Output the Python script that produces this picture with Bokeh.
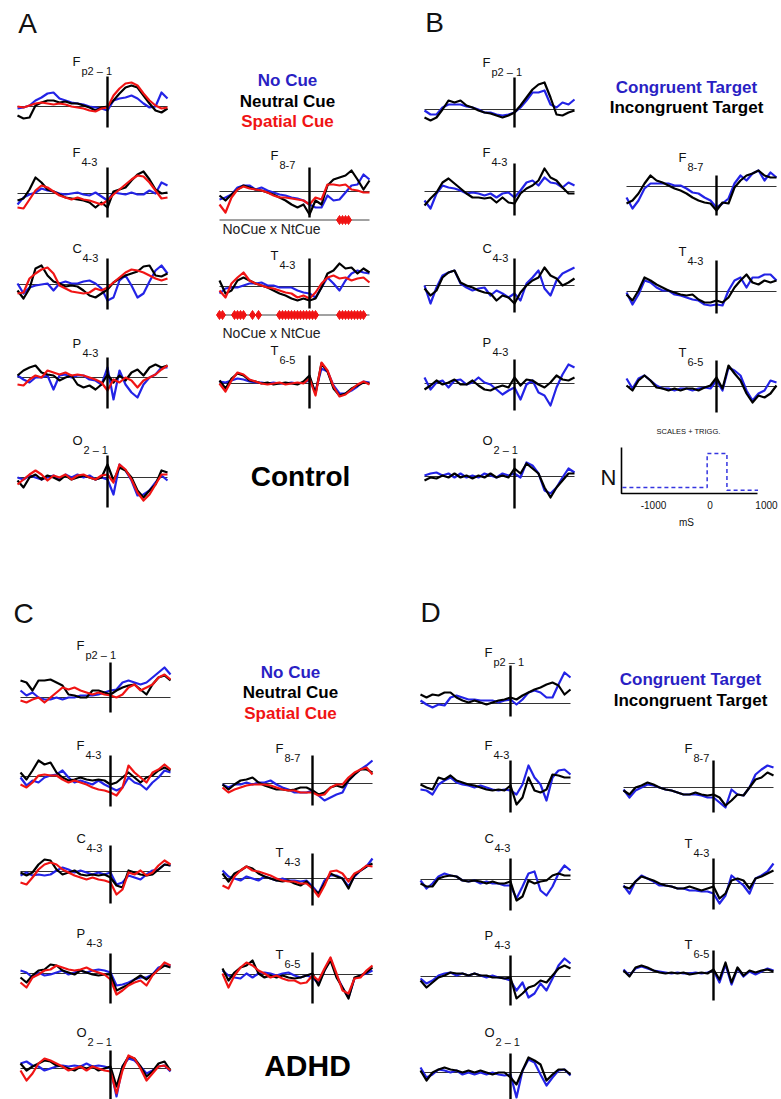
from bokeh.plotting import figure
from bokeh.models import Range1d
from bokeh.embed import file_html
from bokeh.resources import INLINE
from bokeh.core.properties import value

W, H = 781, 1099
FONT = "Liberation Sans"
BLUE = "#2323e6"
RED = "#f01414"
BLACK = "#000000"
LEG_BLUE = "#2a1fc4"

# time axis of every trace (ms relative to target onset)
TIMES = list(range(-1500, 1001, 100))
T_START, T_END = -1500, 1000

# ---------------- Panel A (Control, cue types) ----------------
a_fp21_no = [-0.2,-0.1,0.1,0.6,0.9,1.3,1.4,0.8,0.6,0.4,0.3,0.2,0,-0.1,-0.2,-0.4,0.6,0.8,0.9,1.1,0.8,0.3,-0.1,0,1.4,0.8]
a_fp21_nt = [-0.9,-1.2,-1.1,0.1,0.4,0.6,0.6,0.4,0.5,0.3,0.3,0.1,-0.1,-0.4,-0.1,0,0.6,1.3,1.9,2.1,1.9,1.1,0.3,-0.4,-0.6,-0.2]
a_fp21_sp = [0,-0.1,0.1,0.3,0.4,0.3,0.2,0.3,0.2,0,-0.1,-0.2,-0.4,-0.5,-0.2,-0.1,1.1,1.8,2.3,2.4,2.1,1.3,0.6,0.1,-0.2,-0.1]

a_f43_no = [-1.1,-0.4,-0.1,0.1,0.5,0.3,0.2,0,-0.1,0,0.1,-0.1,-0.2,0.1,-0.3,-0.7,0.1,0,-0.1,0.1,-0.1,-0.1,0.3,0,1.1,0.8]
a_f43_nt = [-0.7,-0.5,0.4,1.6,1.1,0.4,0.2,-0.1,-0.4,-0.5,-0.6,-0.7,-0.9,-1.4,-0.9,-1.4,0.2,0.4,0.6,1.3,1.9,2.2,1.4,0.4,0,0.1]
a_f43_sp = [-1.4,-1.5,-0.6,0.3,0.8,0.6,0.2,-0.2,-0.4,-0.6,-0.4,-0.6,-0.7,-0.9,-1.1,-0.7,-0.1,0.4,0.9,1.4,1.8,1.7,1.1,0.3,-0.5,-0.4]

a_c43_no = [0.1,-0.9,-0.3,-0.1,0,0.1,-0.6,0.1,0.3,0.1,0.1,0.3,0.4,0.1,-0.4,-1.6,-1.3,0.4,0.9,-0.1,-1.3,-0.9,0.3,1.4,1.9,1.1]
a_c43_nt = [-0.6,-1.4,-0.4,1.6,1.9,0.9,0.3,0.1,-0.2,-0.1,-0.2,-0.6,-1.1,-1.3,-0.9,-0.5,0.2,0.6,0.9,1.1,1.3,1.8,1.9,0.9,0.8,1.1]
a_c43_sp = [-0.9,-0.8,0.6,1.1,1.5,1.7,1.1,-0.1,-0.4,-0.7,-0.8,-0.9,-0.8,-0.4,-0.6,-0.3,0.2,0.7,1.2,1.5,1.4,1.2,0.9,0.6,0.4,0.6]

a_p43_no = [0.2,-0.2,-0.5,0,0,0.2,-1.2,0.2,0.3,0,0.2,0.2,-0.2,-0.3,-0.7,1.0,-2.2,0.7,-0.7,-1.5,-2.0,-0.7,0,0.3,1.0,1.0]
a_p43_nt = [0.2,0.7,1.0,1.2,0.5,0.3,0.2,-0.3,0,0.2,-0.7,-1.0,-0.8,-1.2,-0.7,0.3,-0.5,0.2,-0.3,0.5,0.8,0.2,1.0,1.3,1.0,1.2]
a_p43_sp = [-0.7,-0.8,-0.2,0.2,0,0.7,0.5,0.3,0.5,0.2,0.3,0.2,0,-0.2,-0.5,-1.3,-0.2,-0.5,0,-0.3,-1.0,-0.3,0,0.3,0.8,1.2]

a_o21_no = [0,-0.2,0.2,0,-0.2,0,0.2,-0.2,0.3,0,0.3,0,0.2,-0.2,0,-0.2,-1.7,1.3,0.7,-0.3,-1.8,-1.7,-1.3,-0.5,0.2,-0.3]
a_o21_nt = [-0.3,-1.0,0,0.3,-0.2,0.2,0,-0.3,0.2,-0.2,0,0.2,0,-0.2,0,1.3,-0.3,1.0,0.7,0,-1.3,-2.0,-1.3,-0.7,0.7,0.5]
a_o21_sp = [-0.7,-0.2,0.3,0.7,0.3,-0.3,0.2,0,0.3,-0.2,0.2,0.3,0,-0.2,0.2,0.3,-0.5,1.3,0.8,-0.2,-1.5,-2.3,-1.7,-0.7,0.3,0.3]

a_f87_no = [-0.8,-0.6,-0.3,0.4,0.6,0.6,0.2,0.4,0.1,-0.1,-0.3,-0.4,-0.6,-0.7,-0.9,-1.3,-1.6,-1.6,-0.4,-0.9,-0.8,-0.1,0.6,0.7,1.7,1.2]
a_f87_nt = [-0.4,-0.9,-0.3,0.2,0.6,0.4,0.2,0.1,-0.1,-0.3,-0.6,-0.9,-1.3,-1.6,-1.3,-2.3,-0.9,-1.3,0.6,1.2,1.4,1.6,2.1,1.2,0.2,1.1]
a_f87_sp = [-1.3,-2.1,-0.6,0.2,0.5,0.3,0.2,0.1,-0.1,-0.4,-0.6,-0.6,-0.7,-0.8,-0.9,-1.3,-0.6,-0.8,0.7,0.7,0.6,0.7,0.2,0.1,-0.1,-0.1]

a_t43_no = [-0.7,-0.2,-0.1,-0.1,0.1,0.3,0.3,0.4,0.1,0.1,-0.1,-0.1,-0.1,-0.4,-0.6,-0.7,-1.1,-0.1,0.9,0.3,-0.4,0.6,1.3,1.6,1.4,1.3]
a_t43_nt = [0.6,-0.7,-0.4,0.6,0.9,0.6,0.3,0.1,-0.1,-0.4,-0.7,-0.9,-1.2,-1.4,-1.2,-1.4,-1.2,-0.1,1.3,1.6,2.3,1.8,1.9,1.3,1.8,1.4]
a_t43_sp = [-0.4,-1.1,0.3,0.9,1.4,0.6,0.3,0.1,-0.1,-0.2,-0.4,-0.6,-0.7,-1.1,-0.9,-1.2,-0.6,0.3,0.9,1.1,0.8,0.9,0.6,0.8,0.9,0.4]

a_t65_no = [0.2,0.1,0.3,0.5,0.4,0.2,0.1,0.1,0,0.1,0,0,0.1,0,0.1,0.3,-0.8,1.5,1.2,-0.2,-1.0,-1.0,-0.7,-0.3,0.2,0.1]
a_t65_nt = [0.3,-0.5,0.5,1.0,0.8,0.3,0.2,0,0.1,-0.1,0,0.1,0,-0.1,0.2,0.8,-1.0,2.0,1.2,-0.5,-1.2,-1.0,-0.5,-0.2,0.1,0]
a_t65_sp = [0,-0.8,0.3,1.1,0.9,0.4,0.2,0,-0.1,0,0.1,-0.1,0,0.1,0,0.5,-1.2,2.1,1.3,-0.3,-1.3,-1.1,-0.6,-0.1,0.2,-0.1]

# significant NoCue x NtCue time points (ms)
sig_a_f87 = [500, 550, 600, 650]
sig_a_t43 = [-1500, -1450, -1250, -1200, -1150, -1100, -950, -850,
             -500, -450, -400, -350, -300, -250, -200, -150, -100, -50, 0, 50, 100,
             500, 550, 600, 650, 700, 750, 800, 850, 900]

# ---------------- Panel B (Control, target types) ----------------
b_fp21_co = [-0.1,-0.5,-0.5,0.2,0.5,0.5,0.5,0.3,0.2,0,-0.3,-0.3,-0.5,-0.6,-0.5,-0.3,0.2,0.9,1.7,1.7,1.9,0.5,0.2,0.7,0.5,1.0]
b_fp21_in = [-0.8,-1.1,-0.8,0,0.9,0.7,0.9,0.4,0.2,-0.1,-0.3,-0.4,-0.6,-0.8,-0.6,-0.3,0.4,1.2,2.0,2.5,2.7,1.2,-0.5,-0.6,-0.3,-0.1]
b_f43_co = [-0.9,-1.7,-0.2,0.6,0.4,0.3,0.1,-0.2,-0.1,-0.2,-0.4,-0.2,-0.6,-0.2,-0.1,-0.6,0.1,0.9,1.1,0.6,1.4,0.9,0.8,0.4,0.9,0.6]
b_f43_in = [-1.4,-0.7,-0.1,0.9,1.3,0.8,0.3,-0.2,-0.6,-0.6,-0.7,-0.6,-1.1,-0.6,-1.1,-1.2,-0.2,0.3,0.6,1.1,2.3,1.4,1.1,0.4,-0.2,-0.2]
b_c43_co = [0,-1.8,-0.2,1.0,1.3,1.5,0.2,-0.2,-0.5,-0.3,-0.2,-1.0,-0.5,-0.8,-1.2,-0.8,-1.5,0.2,0.8,1.5,-0.3,-1.0,0.5,1.2,1.5,1.8]
b_c43_in = [-0.3,-1.0,-0.5,0.8,1.3,1.5,0.3,0,-0.2,-0.5,-0.7,-0.8,-1.5,-1.0,-1.2,-1.8,-0.7,0,0.5,0.8,1.8,1.0,0.7,0,0.3,0.7]
b_p43_co = [0.6,-0.6,0.1,0.3,-0.4,0.3,0.4,-0.1,0.1,0.6,0.1,-0.1,-0.6,-1.1,-0.7,-0.4,-1.6,-0.1,0.3,-0.9,-1.2,-2.2,-0.4,0.9,1.9,1.6]
b_p43_in = [-0.6,-0.2,0.3,-0.1,0.1,0.4,-0.1,-0.1,0.3,-0.2,-0.6,-0.7,-0.4,-0.2,-0.4,0.6,-0.2,0.4,0.3,-0.1,-0.4,0.1,0.8,0.4,0.3,0.6]
b_o21_co = [0.1,0.3,0.4,0.1,0.3,-0.1,0.3,-0.1,0.1,-0.1,0.3,0.1,-0.1,0.3,0.1,0.3,-0.1,1.4,1.1,0.3,-1.4,-1.7,-1.1,-0.1,0.8,0.4]
b_o21_in = [-0.4,-0.1,-0.2,0.1,-0.1,0.3,-0.1,0.1,-0.2,0.1,-0.1,0.3,-0.1,0.1,-0.1,0.8,0.3,1.3,0.8,0.3,-1.1,-2.1,-1.1,-0.4,0.3,0.3]
b_f87_co = [-1.1,-2.2,-1.4,-0.2,0.3,0.3,0.3,0.3,0.1,0.1,-0.2,-0.6,-0.7,-1.1,-1.4,-2.1,-1.7,-1.2,0.3,1.1,0.6,1.3,1.6,0.6,1.4,0.9]
b_f87_in = [-1.7,-1.4,-0.7,0.3,1.1,0.6,0.4,0.1,-0.2,-0.4,-0.7,-1.1,-1.4,-1.6,-1.7,-2.4,-1.6,-1.7,-0.1,0.6,1.1,1.3,1.6,1.1,0.9,0.9]
b_t43_co = [-0.1,-1.3,-0.3,1.1,0.9,0.4,0.1,0.1,-0.3,-0.4,-0.6,-0.8,-0.9,-1.3,-1.4,-1.3,-1.4,0.1,1.1,1.4,0.4,1.4,1.4,1.7,1.7,1.1]
b_t43_in = [-0.3,-0.9,0.1,1.4,1.1,0.7,0.4,0.1,-0.1,-0.3,-0.4,-0.3,-0.8,-1.1,-1.1,-0.9,-1.1,-0.6,0.4,1.1,1.7,0.9,0.7,1.1,0.9,1.1]
b_t65_co = [0.8,-0.2,0.8,1.1,0.6,0.1,-0.2,-0.2,-0.4,-0.2,-0.2,-0.4,-0.2,-0.1,-0.2,0.6,-0.4,1.9,1.6,1.1,-0.4,-1.4,-0.7,-0.4,0.6,0.4]
b_t65_in = [0.1,-0.4,0.6,1.1,0.6,-0.1,-0.2,-0.4,-0.2,-0.4,-0.2,-0.2,-0.4,-0.1,0.1,0.9,-0.2,2.1,1.3,0.6,-0.7,-1.6,-0.9,-1.1,-0.7,0.1]

# inset: scales + trigger histogram
hist_edges = [-1550, -50, 300, 850]
hist_counts = [1.5, 10.0, 0.8]
hist_ticks = [-1000, 0, 1000]
hist_tick_labels = ["-1000", "0", "1000"]

# ---------------- Panel C (ADHD, cue types) ----------------
c_fp21_no = [0.7,0.2,0.5,0,-0.2,-0.2,0,-0.2,0,0,0.2,0.2,0.2,0.3,0.5,0.7,0.8,1.5,1.7,1.5,1.3,1.5,2.0,2.5,3.0,2.3]
c_fp21_nt = [1.7,1.5,0.7,1.7,1.7,1.8,1.5,1.2,0.3,0.2,0,0,0.7,0.7,0.5,0.3,0.7,1.0,1.2,1.3,0.8,0.3,1.3,2.0,2.2,1.7]
c_fp21_sp = [-0.3,-0.5,-0.2,0,-0.5,0,0.5,1.0,0.8,1.0,0.7,0.5,0.3,0.5,0.3,0.2,0,0.3,1.0,1.3,0.7,1.0,1.3,2.0,2.3,1.8]
c_f43_no = [-0.1,-0.9,-0.4,-0.6,-0.1,0.1,0.2,0.6,-0.1,-0.6,-0.4,-0.6,-0.8,-0.4,-0.8,-1.1,-1.4,-1.1,-0.1,-0.6,-0.8,-1.3,-0.6,-0.1,0.6,0.4]
c_f43_nt = [0.4,-0.3,0.6,1.6,1.2,1.4,0.4,-0.1,-0.4,-0.3,-0.1,-0.3,-0.4,-0.3,-0.4,-0.8,-0.6,-0.1,0.4,-0.1,-0.6,-0.1,0.1,0.6,0.9,0.6]
c_f43_sp = [-0.8,-1.1,-0.6,0.1,0.2,0.1,0.1,-0.3,-0.6,-0.4,-0.6,-0.8,-1.1,-1.3,-1.4,-1.6,-1.9,-1.1,1.1,0.4,-0.1,-0.6,0.4,0.7,1.2,0.7]
c_c43_no = [-0.4,-0.1,-0.4,-0.3,-0.4,-0.3,0.1,0.4,0.2,-0.1,0.1,-0.1,-0.3,-0.1,-0.3,-0.1,-1.3,-1.1,-0.4,-0.6,-0.8,-0.3,0.1,0.2,0.7,0.6]
c_c43_nt = [-0.1,-0.4,-0.1,0.7,1.2,1.1,0.2,-0.3,-0.1,0.1,-0.3,-0.4,-0.3,-0.4,-0.3,-0.6,-1.4,-1.6,0.1,-0.1,-0.3,-0.4,-0.3,0.2,0.7,0.6]
c_c43_sp = [-1.1,-1.3,-0.6,0.2,0.7,0.9,0.7,0.2,-0.1,-0.4,-0.6,-0.8,-0.6,-0.8,-0.9,-1.1,-2.3,-1.8,-0.1,-0.3,0.1,-0.4,-0.1,0.6,1.1,0.7]
c_p43_no = [0.3,0.1,-0.4,0.1,-0.2,-0.1,0.1,0.3,-0.1,0.1,0.3,0.1,0.3,0.4,0.3,0.1,-1.2,-1.1,-0.9,-0.6,-0.4,-0.4,-0.1,0.6,0.8,0.8]
c_p43_nt = [-0.4,-0.9,-0.2,0.3,0.4,0.9,0.8,0.3,0.1,-0.1,0.3,0.1,-0.1,-0.2,-0.1,-0.1,-1.7,-1.4,-1.1,-0.6,-0.2,-0.6,-0.1,0.4,0.8,0.6]
c_p43_sp = [-0.9,-1.4,-0.4,-0.1,0.3,0.4,0.8,0.6,0.4,0.3,0.4,0.6,0.3,0.1,-0.1,-0.6,-2.1,-1.7,-1.2,-0.9,-0.7,-1.2,-0.2,0.4,1.1,0.8]
c_o21_no = [0.5,0.7,0.3,0.2,-0.2,0,0.2,0.3,0.2,0.3,0.2,0.5,0.2,0.3,0.2,0,-2.8,0.2,1.0,0.8,0.2,-0.5,-0.2,0.2,0.3,-0.3]
c_o21_nt = [0.5,-0.2,0.2,0.5,0.8,0.7,0.3,0.2,0,-0.2,0.2,0,0.2,-0.2,0,0.2,-1.8,0.2,1.2,1.0,0.2,-0.8,-0.3,0.5,0.7,-0.2]
c_o21_sp = [-0.2,-1.2,-0.5,0.5,1.0,0.8,0.5,0.2,-0.2,0,0.2,-0.2,0.2,0,-0.2,-0.3,-2.5,-0.2,1.3,1.0,0,-1.2,-0.5,0.2,0.3,-0.2]
c_f87_no = [-0.1,-0.4,-0.1,-0.1,0.1,-0.1,0.1,0.1,0.3,-0.1,-0.4,-0.6,-0.9,-0.9,-0.9,-0.7,-1.2,-1.7,-1.4,-1.1,-0.9,0.3,0.9,1.4,1.8,2.3]
c_f87_nt = [-0.1,-0.6,-0.1,0.3,0.4,0.6,0.1,-0.2,-0.4,-0.6,-0.6,-0.7,-0.6,-0.4,-0.4,-0.7,-1.1,-0.9,-0.4,-0.2,-0.4,0.3,0.9,1.4,1.4,1.1]
c_f87_sp = [-0.4,-0.9,-0.6,-0.4,-0.2,-0.1,-0.1,-0.1,-0.2,-0.4,-0.6,-0.7,-0.7,-0.9,-0.9,-0.9,-1.2,-1.1,-0.4,-0.1,-0.1,0.6,1.1,1.4,1.6,0.9]
c_t43_no = [0.8,0.2,0,-0.2,0.2,0,-0.2,0.2,0,-0.2,0,-0.2,-0.2,-0.3,-0.2,-0.8,-1.5,-0.2,0.3,0.3,0,-0.8,0.2,0.8,1.2,2.0]
c_t43_nt = [0.5,-0.3,0.5,0.8,1.2,1.0,0.5,0.2,0,-0.2,-0.3,-0.2,-0.5,-0.7,-0.3,-1.0,-1.5,-0.5,0.5,0.2,0,-1.0,0.3,0.8,1.2,1.5]
c_t43_sp = [-0.7,-1.0,0.2,0.8,1.2,0.8,0.7,0.5,0.3,0,-0.2,-0.3,-0.3,-0.5,-0.5,-1.0,-1.8,-0.7,0.7,0.8,0.5,-0.3,0.5,0.8,1.3,1.2]
c_t65_no = [0.4,-0.1,-0.3,-0.4,0.1,-0.3,0.1,0.2,0.1,-0.1,0.1,0.2,-0.1,-0.3,-0.1,-0.3,-0.9,0.4,1.6,-0.1,-1.3,-2.3,-0.4,-0.1,0.1,0.4]
c_t65_nt = [0.6,-0.6,0.2,0.7,0.9,1.4,0.1,-0.3,-0.1,-0.3,-0.1,-0.3,-0.4,-0.3,-0.1,0.1,-1.1,0.4,1.4,-0.3,-1.3,-2.4,-0.3,-0.1,0.2,0.7]
c_t65_sp = [0.1,-1.3,-0.1,0.7,1.2,0.9,0.4,0.1,-0.3,-0.1,-0.4,-0.6,-0.6,-0.9,-0.8,-0.1,-0.6,0.6,1.7,0.1,-1.6,-1.9,-0.4,-0.3,0.4,0.9]

# ---------------- Panel D (ADHD, target types) ----------------
d_fp21_co = [0.3,-0.1,-0.4,-0.1,-0.2,0.6,0.8,0.6,0.4,0.4,0.3,0.3,0.3,0.1,0.3,0.4,-0.1,0.4,1.1,1.3,1.1,0.6,0.6,1.9,3.1,2.6]
d_fp21_in = [0.9,0.6,0.9,0.8,1.1,1.1,0.6,0.3,0.1,0.3,0.1,-0.1,0.1,0.3,0.4,0.6,0.4,0.8,1.1,1.4,1.6,1.9,2.1,1.8,0.9,1.4]
d_f43_co = [-0.6,-0.7,-1.1,-0.1,0.3,0.6,0.1,-0.1,-0.2,-0.4,-0.2,-0.4,-0.6,-0.7,-0.6,-0.7,-1.1,-0.1,1.8,0.6,-0.1,-1.7,0.6,1.3,1.4,0.9]
d_f43_in = [-0.1,-0.4,-0.6,0.6,0.4,0.8,0.3,0.1,-0.1,-0.2,-0.4,-0.6,-0.7,-0.6,-0.7,-0.2,-2.1,-1.4,0.6,-0.7,-0.9,-0.6,0.9,0.8,0.6,0.6]
d_c43_co = [-0.1,-0.9,-0.4,0.3,0.6,0.4,0.3,-0.1,-0.2,-0.1,-0.4,-0.2,-0.4,-0.4,-0.6,-0.6,-1.9,-0.7,0.6,0.8,-1.1,-1.6,-0.7,0.6,1.4,0.9]
d_c43_in = [-0.4,-0.7,-0.7,0.1,0.3,0.4,0.3,-0.1,-0.2,-0.1,-0.2,-0.4,-0.2,-0.4,-0.4,-0.2,-2.1,-1.7,-0.1,-0.4,-0.2,-0.1,0.4,0.6,0.4,0.4]
d_p43_co = [-0.2,-0.7,-0.4,0.1,0.3,0.4,0.1,0.3,0.1,0.3,0.1,-0.1,0.1,-0.1,-0.2,-0.4,-1.4,-0.6,-2.1,-1.7,-0.7,-1.4,-0.2,1.1,1.8,1.3]
d_p43_in = [-0.4,-1.1,-0.6,-0.1,0.1,0.4,0.3,0.3,0.1,0.3,0.1,0.1,-0.1,-0.1,-0.2,-0.1,-2.2,-1.7,-1.1,-0.9,-0.4,-0.6,0.1,0.8,1.1,0.8]
d_o21_co = [0.5,-0.5,-0.2,0.3,0.2,0,0.2,-0.2,0,-0.2,0,-0.2,0,-0.2,-0.3,-0.2,-2.5,0.2,1.3,1.0,-0.2,-1.3,-0.5,0.2,0.3,-0.3]
d_o21_in = [0.2,-0.8,0,0.3,0.5,0.3,0.2,0,0.2,0,0.2,0,-0.2,0,0,-0.5,-1.2,0.2,1.5,1.2,0.8,-0.8,-0.2,0.3,0.3,-0.2]
d_f87_co = [-0.2,-1.0,-0.3,0,0.3,0.2,0,-0.2,-0.3,-0.5,-0.7,-0.7,-0.7,-0.8,-1.0,-1.0,-1.5,-2.0,-0.2,-0.7,-0.8,0,1.3,1.8,2.2,2.0]
d_f87_in = [-0.3,-0.7,0,0.2,0.5,0.3,0,-0.2,-0.3,-0.5,-0.7,-0.7,-0.5,-0.7,-0.8,-0.7,-1.0,-1.8,-1.3,-0.7,-0.8,0,0.8,1.0,1.5,1.2]
d_t43_co = [-0.2,-1.0,0.2,0.8,0.5,0.2,-0.2,-0.2,-0.3,-0.5,-0.5,-0.7,-0.7,-0.8,-0.8,-1.0,-2.0,-1.2,0.8,0.3,-0.2,-1.0,0.5,0.8,1.2,2.0]
d_t43_in = [-0.3,-0.5,0.2,0.7,0.5,0.3,0,-0.2,-0.3,-0.5,-0.5,-0.3,-0.5,-0.7,-0.5,-0.3,-1.5,-1.0,0.3,0.5,0.3,-0.5,0.5,0.7,1.0,1.3]
d_t65_co = [0.3,-0.3,0.4,0.6,0.4,0.2,0.1,0,-0.1,0,-0.1,-0.1,0,-0.1,0,0.2,-1.0,0.8,-1.2,0.4,-0.4,0.1,-0.2,0.1,0.4,0.2]
d_t65_in = [0.2,-0.4,0.5,0.7,0.5,0.2,0,-0.1,0,-0.1,0,-0.2,-0.1,0,-0.1,0.3,-0.7,1.0,-1.0,0.5,-0.3,0.2,0,0.2,0.3,0.1]

# ---------------- figure ----------------
p = figure(width=W, height=H, x_range=Range1d(0, W), y_range=Range1d(0, H),
           output_backend="svg", toolbar_location=None, min_border=0,
           x_axis_type=None, y_axis_type=None, outline_line_color=None,
           background_fill_color="white", border_fill_color="white")

PX_MS = 0.06     # horizontal pixels per ms in each trace box
PX_UNIT = 10.0   # vertical pixels per amplitude unit
SUB_DX = {"F": 9, "T": 9, "C": 10, "P": 10, "O": 11}


def txt(x, y, s, size, color="#111111", bold=False, align="left"):
    p.text(x=[x], y=[H - y], text=[s], text_font=value(FONT), text_font_size=size,
           text_color=color, text_align=align, text_baseline="middle",
           text_font_style="bold" if bold else "normal")


def channel(vx, geom, label, dx, series):
    base, vtop, vbot, ly = geom
    y0, y1 = -(vbot - base) / PX_UNIT, (base - vtop) / PX_UNIT
    s = p.subplot(x_source=Range1d(T_START, T_END), y_source=Range1d(y0, y1),
                  x_target=Range1d(vx + T_START * PX_MS, vx + T_END * PX_MS),
                  y_target=Range1d(H - vbot, H - vtop))
    s.line(x=[T_START, T_END], y=[0, 0], line_color="#333333", line_width=1)
    for color, vals in series:
        s.line(x=TIMES, y=vals, line_color=color, line_width=2.2, line_join="round")
    s.line(x=[0, 0], y=[y0, y1], line_color="black", line_width=2.4)
    letter, sub = label
    txt(vx + dx, ly, letter, "13px")
    txt(vx + dx + SUB_DX[letter], ly + 9, sub, "11px")
    return s


def sig_row(s, vx, times, sig_px=28.5):
    ys = -sig_px / PX_UNIT
    s.line(x=[T_START, T_END], y=[ys, ys], line_color="#444444", line_width=1)
    s.scatter(x=times, y=[ys] * len(times), marker="diamond", size=9,
              fill_color=RED, line_color=RED)


LEFT_LABELS = [("F", "p2 – 1"), ("F", "4-3"), ("C", "4-3"), ("P", "4-3"), ("O", "2 – 1")]
RIGHT_LABELS = [("F", "8-7"), ("T", "4-3"), ("T", "6-5")]

# geometry per box: (baseline y, vertical-line top, vertical-line bottom, label y) in pixels
A_LEFT = [(106, 76, 127, 61), (193, 167, 217, 152), (284, 258, 309, 248), (377, 357, 408, 343), (477, 455, 507, 440)]
A_RIGHT = [(191, 167, 217, 155), (286, 258, 308, 255), (383, 355, 408, 350)]
B_LEFT = [(109, 77, 127, 62), (191, 163, 215, 152), (285, 258, 312, 248), (383, 359, 410, 342), (476, 458, 508, 440)]
B_RIGHT = [(186, 175, 215, 157), (291, 260, 313, 251), (386, 360, 412, 352)]
C_LEFT = [(697, 662, 712, 645), (776, 755, 806, 745), (871, 845, 903, 838), (973, 953, 1003, 933), (1068, 1050, 1100, 1032)]
C_RIGHT = [(783, 755, 805, 748), (878, 853, 905, 852), (974, 952, 1003, 954)]
D_LEFT = [(703, 665, 716, 652), (783, 760, 812, 745), (879, 858, 910, 838), (976, 955, 1005, 935), (1072, 1053, 1100, 1032)]
D_RIGHT = [(787, 760, 812, 748), (883, 858, 909, 843), (972, 950, 1000, 944)]

a_left_series = [
    [(BLUE, a_fp21_no), (BLACK, a_fp21_nt), (RED, a_fp21_sp)],
    [(BLUE, a_f43_no), (BLACK, a_f43_nt), (RED, a_f43_sp)],
    [(BLUE, a_c43_no), (BLACK, a_c43_nt), (RED, a_c43_sp)],
    [(BLUE, a_p43_no), (BLACK, a_p43_nt), (RED, a_p43_sp)],
    [(BLUE, a_o21_no), (BLACK, a_o21_nt), (RED, a_o21_sp)],
]
a_right_series = [
    [(BLUE, a_f87_no), (BLACK, a_f87_nt), (RED, a_f87_sp)],
    [(BLUE, a_t43_no), (BLACK, a_t43_nt), (RED, a_t43_sp)],
    [(BLUE, a_t65_no), (BLACK, a_t65_nt), (RED, a_t65_sp)],
]
b_left_series = [
    [(BLUE, b_fp21_co), (BLACK, b_fp21_in)],
    [(BLUE, b_f43_co), (BLACK, b_f43_in)],
    [(BLUE, b_c43_co), (BLACK, b_c43_in)],
    [(BLUE, b_p43_co), (BLACK, b_p43_in)],
    [(BLUE, b_o21_co), (BLACK, b_o21_in)],
]
b_right_series = [
    [(BLUE, b_f87_co), (BLACK, b_f87_in)],
    [(BLUE, b_t43_co), (BLACK, b_t43_in)],
    [(BLUE, b_t65_co), (BLACK, b_t65_in)],
]
c_left_series = [
    [(BLUE, c_fp21_no), (BLACK, c_fp21_nt), (RED, c_fp21_sp)],
    [(BLUE, c_f43_no), (BLACK, c_f43_nt), (RED, c_f43_sp)],
    [(BLUE, c_c43_no), (BLACK, c_c43_nt), (RED, c_c43_sp)],
    [(BLUE, c_p43_no), (BLACK, c_p43_nt), (RED, c_p43_sp)],
    [(BLUE, c_o21_no), (BLACK, c_o21_nt), (RED, c_o21_sp)],
]
c_right_series = [
    [(BLUE, c_f87_no), (BLACK, c_f87_nt), (RED, c_f87_sp)],
    [(BLUE, c_t43_no), (BLACK, c_t43_nt), (RED, c_t43_sp)],
    [(BLUE, c_t65_no), (BLACK, c_t65_nt), (RED, c_t65_sp)],
]
d_left_series = [
    [(BLUE, d_fp21_co), (BLACK, d_fp21_in)],
    [(BLUE, d_f43_co), (BLACK, d_f43_in)],
    [(BLUE, d_c43_co), (BLACK, d_c43_in)],
    [(BLUE, d_p43_co), (BLACK, d_p43_in)],
    [(BLUE, d_o21_co), (BLACK, d_o21_in)],
]
d_right_series = [
    [(BLUE, d_f87_co), (BLACK, d_f87_in)],
    [(BLUE, d_t43_co), (BLACK, d_t43_in)],
    [(BLUE, d_t65_co), (BLACK, d_t65_in)],
]

columns = [
    (107, -35, A_LEFT, LEFT_LABELS, a_left_series),
    (514, -32, B_LEFT, LEFT_LABELS, b_left_series),
    (716, -38, B_RIGHT, RIGHT_LABELS, b_right_series),
    (110, -34, C_LEFT, LEFT_LABELS, c_left_series),
    (312, -37, C_RIGHT, RIGHT_LABELS, c_right_series),
    (510, -26, D_LEFT, LEFT_LABELS, d_left_series),
    (713, -29, D_RIGHT, RIGHT_LABELS, d_right_series),
]
for vx, dx, geoms, labels, series in columns:
    for g, lab, ser in zip(geoms, labels, series):
        channel(vx, g, lab, dx, ser)

# panel A right column with significance rows
A_RX = 309
sA = [channel(A_RX, g, lab, -39, ser) for g, lab, ser in zip(A_RIGHT, RIGHT_LABELS, a_right_series)]
sig_row(sA[0], A_RX, sig_a_f87)
sig_row(sA[1], A_RX, sig_a_t43)
txt(A_RX - 87, A_RIGHT[0][0] + 37, "NoCue x NtCue", "14px", color="#222222")
txt(A_RX - 87, A_RIGHT[1][0] + 46, "NoCue x NtCue", "14px", color="#222222")

# inset histogram (panel B)
hs = p.subplot(x_source=Range1d(-1566, 841), y_source=Range1d(0, 11.5),
               x_target=Range1d(621, 757), y_target=Range1d(H - 493, H - 447))
hs.line(x=[-1566, -1566, 841], y=[11.5, 0, 0], line_color="black", line_width=1.6)
step_x, step_y = [], []
for i, c in enumerate(hist_counts):
    step_x += [hist_edges[i], hist_edges[i + 1]]
    step_y += [c, c]
hs.line(x=step_x, y=step_y, line_color="#3535e0", line_width=1.5, line_dash="4 3")
hs.text(x=hist_ticks, y=[-2.8] * len(hist_ticks), text=hist_tick_labels,
        text_font=value(FONT), text_font_size="10px", text_align="center",
        text_baseline="middle", text_color="#111111")
txt(688, 431, "SCALES + TRIGG.", "7.5px", align="center")
txt(608, 477, "N", "22px", align="center")
txt(686, 522, "mS", "10px", align="center")

# panel letters
for letter, (x, y) in zip(["A", "B", "C", "D"], [(27, 23), (434, 22), (23, 613), (430, 612)]):
    txt(x, y, letter, "28px", align="center")

# legends
for s, col, y in zip(["No Cue", "Neutral Cue", "Spatial Cue"], [LEG_BLUE, BLACK, RED], [80, 101, 121]):
    txt(287, y, s, "17px", color=col, bold=True, align="center")
for s, col, y in zip(["No Cue", "Neutral Cue", "Spatial Cue"], [LEG_BLUE, BLACK, RED], [672, 692, 713]):
    txt(290, y, s, "17px", color=col, bold=True, align="center")
for s, col, y in zip(["Congruent Target", "Incongruent Target"], [LEG_BLUE, BLACK], [87, 107]):
    txt(686, y, s, "17px", color=col, bold=True, align="center")
for s, col, y in zip(["Congruent Target", "Incongruent Target"], [LEG_BLUE, BLACK], [679, 700]):
    txt(690, y, s, "17px", color=col, bold=True, align="center")

txt(300, 476, "Control", "28px", color="black", bold=True, align="center")
txt(307, 1065, "ADHD", "30px", color="black", bold=True, align="center")

open("out.html", "w").write(file_html(p, INLINE, "EEG"))
